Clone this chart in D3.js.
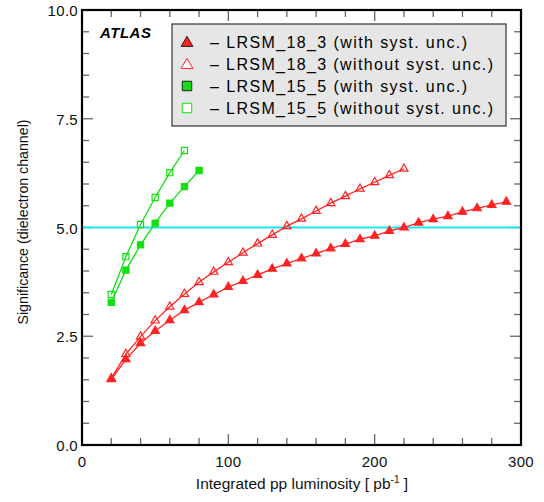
<!DOCTYPE html>
<html><head><meta charset="utf-8">
<script src="https://cdn.jsdelivr.net/npm/d3@7"></script>
<style>body{margin:0;background:#fff}svg{display:block}text{font-family:"Liberation Sans",Arial,sans-serif}</style>
</head><body>
<script>
const xRed = [20,30,40,50,60,70,80,90,100,110,120,130,140,150,160,170,180,190,200,210,220,230,240,250,260,270,280,290];
const redWith = [1.51,1.97,2.34,2.62,2.87,3.10,3.28,3.46,3.63,3.77,3.91,4.05,4.17,4.29,4.40,4.52,4.62,4.73,4.81,4.92,5.00,5.11,5.19,5.26,5.36,5.44,5.52,5.59];
const xRedOpen = [20,30,40,50,60,70,80,90,100,110,120,130,140,150,160,170,180,190,200,210,220];
const redWithout = [1.53,2.09,2.49,2.86,3.18,3.47,3.74,3.98,4.20,4.42,4.63,4.83,5.03,5.20,5.38,5.56,5.72,5.89,6.04,6.20,6.35];
const xGreenWith = [20,30,40,50,60,70,80];
const greenWith = [3.28,4.02,4.60,5.10,5.56,5.94,6.31];
const xGreenWithout = [20,30,40,50,60,70];
const greenWithout = [3.46,4.33,5.07,5.69,6.26,6.77];
const legendLabels = ["– LRSM_18_3 (with syst. unc.)","– LRSM_18_3 (without syst. unc.)","– LRSM_15_5 (with syst. unc.)","– LRSM_15_5 (without syst. unc.)"];
const xTickLabels = [0,100,200,300];
const yTickLabels = [0,2.5,5,7.5,10];
const threshold = 5;

const W=544,H=502, L=82,R=521,T=10,B=445;
const RED="#ff2323", GREEN="#10e010", CYAN="#18e8ee";
const svg=d3.select("body").append("svg").attr("width",W).attr("height",H);
const x=d3.scaleLinear().domain([0,300]).range([L,R]);
const y=d3.scaleLinear().domain([0,10]).range([B,T]);

// ticks
const tickG=svg.append("g").attr("stroke","#666").attr("stroke-width",1.3);
d3.range(0,301,20).forEach(v=>{
  const len = v%100===0?11:7;
  tickG.append("line").attr("x1",x(v)).attr("x2",x(v)).attr("y1",B).attr("y2",B-len);
  tickG.append("line").attr("x1",x(v)).attr("x2",x(v)).attr("y1",T).attr("y2",T+len);
});
d3.range(0,10.01,0.5).forEach(v=>{
  const major = Math.abs(v/2.5-Math.round(v/2.5))<1e-6;
  const len = major?11:7;
  tickG.append("line").attr("y1",y(v)).attr("y2",y(v)).attr("x1",L).attr("x2",L+len);
  tickG.append("line").attr("y1",y(v)).attr("y2",y(v)).attr("x1",R).attr("x2",R-len);
});

// threshold line
svg.append("line").attr("x1",L).attr("x2",R).attr("y1",y(threshold)).attr("y2",y(threshold)).attr("stroke",CYAN).attr("stroke-width",2);

// frame
svg.append("rect").attr("x",L).attr("y",T).attr("width",R-L).attr("height",B-T).attr("fill","none").attr("stroke","#000").attr("stroke-width",2.2);

// tick labels
svg.selectAll(".xl").data(xTickLabels).enter().append("text").attr("x",d=>x(d)).attr("y",B+22).attr("text-anchor","middle").attr("font-size",15).attr("letter-spacing",0.3).attr("fill","#111").text(d=>d);
svg.selectAll(".yl").data(yTickLabels).enter().append("text").attr("x",L-4).attr("y",d=>y(d)+6).attr("text-anchor","end").attr("font-size",15).attr("letter-spacing",0.3).attr("fill","#111").text(d=>d.toFixed(1));

// axis titles
const xt=svg.append("text").attr("x",302).attr("y",489).attr("text-anchor","middle").attr("font-size",15.5).attr("fill","#111");
xt.append("tspan").text("Integrated pp luminosity [ pb");
xt.append("tspan").attr("dy",-6).attr("font-size",10).text("-1");
xt.append("tspan").attr("dy",6).text(" ]");
svg.append("text").attr("transform",`translate(28,222) rotate(-90)`).attr("text-anchor","middle").attr("font-size",14.2).attr("fill","#111").text("Significance (dielectron channel)");

// series
const line=d3.line().x(d=>x(d[0])).y(d=>y(d[1]));
function series(xs,ys,color,shape,filled){
  const pts=xs.map((v,i)=>[v,ys[i]]);
  svg.append("path").attr("d",line(pts)).attr("fill","none").attr("stroke",color).attr("stroke-width",1.3);
  const sym=d3.symbol().type(shape).size(shape===d3.symbolTriangle?30:38);
  svg.selectAll(null).data(pts).enter().append("path").attr("d",sym)
    .attr("transform",d=>`translate(${x(d[0])},${y(d[1])})`)
    .attr("fill",filled?color:"none").attr("stroke",color).attr("stroke-width",1.2);
}
series(xRed,redWith,RED,d3.symbolTriangle,true);
series(xRedOpen,redWithout,RED,d3.symbolTriangle,false);
series(xGreenWith,greenWith,GREEN,d3.symbolSquare,true);
series(xGreenWithout,greenWithout,GREEN,d3.symbolSquare,false);

// ATLAS
svg.append("text").attr("x",100).attr("y",38).attr("font-size",15).attr("letter-spacing",0.5).attr("font-weight","bold").attr("font-style","italic").attr("fill","#000").text("ATLAS");

// legend
svg.append("rect").attr("x",172).attr("y",24).attr("width",334).attr("height",102).attr("fill","#e6e6e6").attr("stroke","#333").attr("stroke-width",1.2);
const legShapes=[[RED,d3.symbolTriangle,true],[RED,d3.symbolTriangle,false],[GREEN,d3.symbolSquare,true],[GREEN,d3.symbolSquare,false]];
const legWidths=[257,283,257,283];
legendLabels.forEach((t,i)=>{
  const yy=42+i*22;
  const [c,s,f]=legShapes[i];
  svg.append("path").attr("d",d3.symbol().type(s).size(s===d3.symbolTriangle?60:90)()).attr("transform",`translate(187,${yy+(s===d3.symbolTriangle?1:0)})`)
    .attr("fill",f?c:"#fff").attr("stroke",f?"#222":c).attr("stroke-width",1);
  svg.append("text").attr("x",210).attr("y",yy+6).attr("font-size",16).attr("textLength",legWidths[i]).attr("lengthAdjust","spacing").attr("fill","#000").text(t);
});
</script>
</body></html>
